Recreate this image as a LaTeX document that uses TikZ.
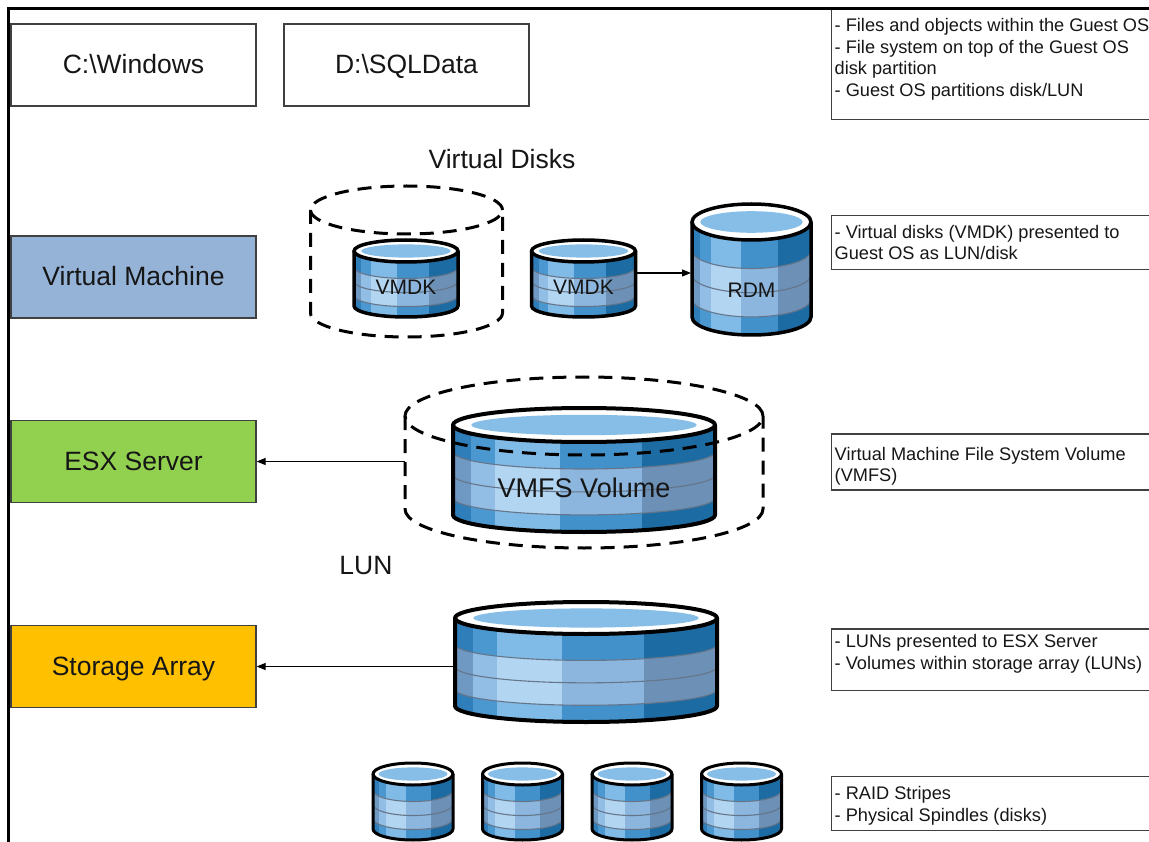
\documentclass[tikz,border=0pt]{standalone}
\usepackage{fontspec}
\setmainfont{Liberation Sans}
\usetikzlibrary{arrows.meta}
\definecolor{txt}{HTML}{161616}
\definecolor{boxgray}{HTML}{404040}
\definecolor{vmfill}{HTML}{95B3D7}
\definecolor{esxfill}{HTML}{92D050}
\definecolor{stofill}{HTML}{FFC000}
\definecolor{cyD1}{HTML}{2F7DB9}
\definecolor{cyD2}{HTML}{4B98D0}
\definecolor{cyD3}{HTML}{80BAE6}
\definecolor{cyD4}{HTML}{4291CA}
\definecolor{cyD5}{HTML}{1D6BA3}
\definecolor{cyL1}{HTML}{6F98C2}
\definecolor{cyL2}{HTML}{92BDE4}
\definecolor{cyL3}{HTML}{B2D5F2}
\definecolor{cyL4}{HTML}{8CB6DD}
\definecolor{cyL5}{HTML}{6C90B6}
\definecolor{cytopc}{HTML}{86BEE7}
\definecolor{cyrowc}{HTML}{66768A}
\newcommand{\dbcyl}[8]{%
\pgfmathsetmacro\cyXL{#2-#5}%
\pgfmathsetmacro\cyXR{#2+#5}%
\pgfmathsetmacro\cyW{2*#5}%
\pgfmathsetmacro\cyYT{-#3}%
\pgfmathsetmacro\cyYB{-#4}%
\pgfmathsetmacro\cyH{#4-#3}%
\pgfmathsetmacro\cyRa{-(#3+0.3*\cyH)}%
\pgfmathsetmacro\cyRb{-(#3+0.555*\cyH)}%
\pgfmathsetmacro\cyRc{-(#3+0.81*\cyH)}%
\pgfmathsetmacro\cyXa{\cyXL+0.07*\cyW}%
\pgfmathsetmacro\cyXb{\cyXL+0.16*\cyW}%
\pgfmathsetmacro\cyXc{\cyXL+0.41*\cyW}%
\pgfmathsetmacro\cyXd{\cyXL+0.72*\cyW}%
\pgfmathsetmacro\cyYlo{\cyYB-#6-3}%
\pgfmathsetmacro\cyYlab{-(#3+0.8*\cyH)}%
\pgfmathsetmacro\cyYmid{-(#3+0.4*\cyH)}%
\pgfmathsetmacro\cyIRx{0.86*#5}%
\pgfmathsetmacro\cyIRy{0.6*#6}%
\begin{scope}
 \clip (\cyXL,\cyYT) -- (\cyXL,\cyYB) arc[start angle=180,end angle=360,x radius=#5pt,y radius=#6pt] -- (\cyXR,\cyYT) -- cycle;
 \fill[cyD1] (\cyXL,\cyYT) rectangle (\cyXa,\cyYlo);
 \fill[cyD2] (\cyXa,\cyYT) rectangle (\cyXb,\cyYlo);
 \fill[cyD3] (\cyXb,\cyYT) rectangle (\cyXc,\cyYlo);
 \fill[cyD4] (\cyXc,\cyYT) rectangle (\cyXd,\cyYlo);
 \fill[cyD5] (\cyXd,\cyYT) rectangle (\cyXR,\cyYlo);
 \begin{scope}
  \clip (\cyXL,\cyRa) arc[start angle=180,end angle=360,x radius=#5pt,y radius=#6pt] -- (\cyXR,\cyRc) arc[start angle=0,end angle=-180,x radius=#5pt,y radius=#6pt] -- cycle;
  \fill[cyL1] (\cyXL,\cyYT) rectangle (\cyXa,\cyYlo);
  \fill[cyL2] (\cyXa,\cyYT) rectangle (\cyXb,\cyYlo);
  \fill[cyL3] (\cyXb,\cyYT) rectangle (\cyXc,\cyYlo);
  \fill[cyL4] (\cyXc,\cyYT) rectangle (\cyXd,\cyYlo);
  \fill[cyL5] (\cyXd,\cyYT) rectangle (\cyXR,\cyYlo);
 \end{scope}
 \draw[cyrow] (\cyXL,\cyRa) arc[start angle=180,end angle=360,x radius=#5pt,y radius=#6pt];
 \draw[cyrow] (\cyXL,\cyRb) arc[start angle=180,end angle=360,x radius=#5pt,y radius=#6pt];
 \draw[cyrow] (\cyXL,\cyRc) arc[start angle=180,end angle=360,x radius=#5pt,y radius=#6pt];
\end{scope}
\fill[white] (#2,\cyYT) ellipse[x radius=#5pt,y radius=#6pt];
\fill[cytopc] (#2,\cyYT) ellipse[x radius=\cyIRx pt,y radius=\cyIRy pt];
\draw[cyedge] (#2,\cyYT) ellipse[x radius=#5pt,y radius=#6pt];
\draw[cyedge] (\cyXL,\cyYT) -- (\cyXL,\cyYB) arc[start angle=180,end angle=360,x radius=#5pt,y radius=#6pt] -- (\cyXR,\cyYT);
\coordinate (#1-W) at (\cyXL,\cyYmid);
\coordinate (#1-E) at (\cyXR,\cyYmid);
\node[anchor=base,text=txt,inner sep=0pt,font=#7] (#1) at (#2,\cyYlab) {#8};
}
\begin{document}
\begin{tikzpicture}[x=1pt,y=1pt,
  lbox/.style={draw=boxgray,line width=1.2pt,minimum width=245pt,minimum height=82pt,inner sep=0pt,
     font=\fontsize{26.5}{30}\selectfont,text height=19pt,text depth=2pt,text=txt},
  rbox/.style={draw=boxgray,line width=1.2pt,anchor=north west,minimum width=340pt,inner sep=0pt},
  rtext/.style={anchor=base west,inner sep=0pt,text=txt,font=\fontsize{18.2}{21.6}\selectfont},
  bigtext/.style={anchor=base,inner sep=0pt,text=txt,font=\fontsize{26.5}{30}\selectfont},
  dashcyl/.style={line width=3pt,dash pattern=on 14pt off 9pt,black},
  cyedge/.style={line width=3.5pt,black,line join=round},
  cyrow/.style={line width=1.1pt,cyrowc},
  arr/.style={-{Triangle[length=9pt,width=7pt]},line width=1.1pt,black}]
\useasboundingbox (0,0) rectangle (1149,-842);
\clip (0,0) rectangle (1149,-842);

% left boxes
\node[lbox] (cwin) at (133.5,-65) {C:\textbackslash Windows};
\node[lbox] (dsql) at (406.5,-65) {D:\textbackslash SQLData};
\node[lbox,fill=vmfill] (vm) at (133.5,-277) {Virtual Machine};
\node[lbox,fill=esxfill] (esx) at (133.5,-461.5) {ESX Server};
\node[lbox,fill=stofill] (stor) at (133.5,-666.5) {Storage Array};

% right boxes
\node[rbox,minimum height=110.5pt] (r1) at (831,-8.5) {};
\node[rtext] (r1a) at (834.5,-31.5) {- Files and objects within the Guest OS};
\node[rtext] (r1b) at (834.5,-53.1) {- File system on top of the Guest OS};
\node[rtext] (r1c) at (834.5,-74.7) {disk partition};
\node[rtext] (r1d) at (834.5,-96.3) {- Guest OS partitions disk/LUN};

\node[rbox,minimum height=54.3pt] (r2) at (831,-215) {};
\node[rtext] (r2a) at (834.5,-238.3) {- Virtual disks (VMDK) presented to};
\node[rtext] (r2b) at (834.5,-260) {Guest OS as LUN/disk};

\node[rbox,minimum height=56pt] (r3) at (831,-433.3) {};
\node[rtext] (r3a) at (834.5,-460) {Virtual Machine File System Volume};
\node[rtext] (r3b) at (834.5,-481.7) {(VMFS)};

\node[rbox,minimum height=61.7pt] (r4) at (831,-628.3) {};
\node[rtext] (r4a) at (834.5,-647.3) {- LUNs presented to ESX Server};
\node[rtext] (r4b) at (834.5,-669) {- Volumes within storage array (LUNs)};

\node[rbox,minimum height=54pt] (r5) at (831,-776) {};
\node[rtext] (r5a) at (834.5,-799.3) {- RAID Stripes};
\node[rtext] (r5b) at (834.5,-821) {- Physical Spindles (disks)};

% labels
\node[bigtext] (vdisks) at (502,-169) {Virtual Disks};
\node[bigtext] (lunlab) at (366,-574.5) {LUN};

% virtual disks group
\draw[dashcyl] (406.5,-210) ellipse[x radius=96pt,y radius=24pt];
\draw[dashcyl] (310.5,-210) -- (310.5,-313) arc[start angle=180,end angle=360,x radius=96pt,y radius=24pt] -- (502.5,-210);
\dbcyl{vmdkA}{406}{251}{306}{52}{11}{\fontsize{21}{24}\selectfont}{VMDK}
\dbcyl{vmdkB}{583.5}{251}{306}{52}{11}{\fontsize{21}{24}\selectfont}{VMDK}
\dbcyl{rdm}{751.5}{222}{317}{59.5}{18}{\fontsize{21}{24}\selectfont}{RDM}
\draw[arr,shorten >=1pt] (vmdkB-E) -- (rdm-W |- vmdkB-E);

% VMFS volume inside LUN
\tikzset{cyedge/.style={line width=4pt,black,line join=round}}
\dbcyl{vmfs}{584}{425}{515}{131}{17}{\fontsize{27}{30}\selectfont}{VMFS Volume}
\draw[dashcyl] (584,-416) ellipse[x radius=179pt,y radius=39pt];
\draw[dashcyl] (405,-416) -- (405,-509) arc[start angle=180,end angle=360,x radius=179pt,y radius=39pt] -- (763,-416);
\coordinate (lunW) at (405,-462);
\draw[arr] (esx.east -| lunW) -- (esx.east);

% storage array LUN
\dbcyl{lun}{586}{618}{706}{131}{16}{\fontsize{21}{24}\selectfont}{}
\draw[arr] (stor.east -| lun-W) -- (stor.east);

% physical disks
\tikzset{cyedge/.style={line width=3pt,black,line join=round}}
\dbcyl{dkA}{413}{774}{829}{40}{11}{\fontsize{21}{24}\selectfont}{}
\dbcyl{dkB}{522.5}{774}{829}{40}{11}{\fontsize{21}{24}\selectfont}{}
\dbcyl{dkC}{632}{774}{829}{40}{11}{\fontsize{21}{24}\selectfont}{}
\dbcyl{dkD}{741.5}{774}{829}{40}{11}{\fontsize{21}{24}\selectfont}{}

% frame
\coordinate (frTL) at (8.5,-8.5);
\draw[line width=2.8pt,black] (8.5,-850) -- (frTL) -- (1160,-8.5);
\end{tikzpicture}
\end{document}
